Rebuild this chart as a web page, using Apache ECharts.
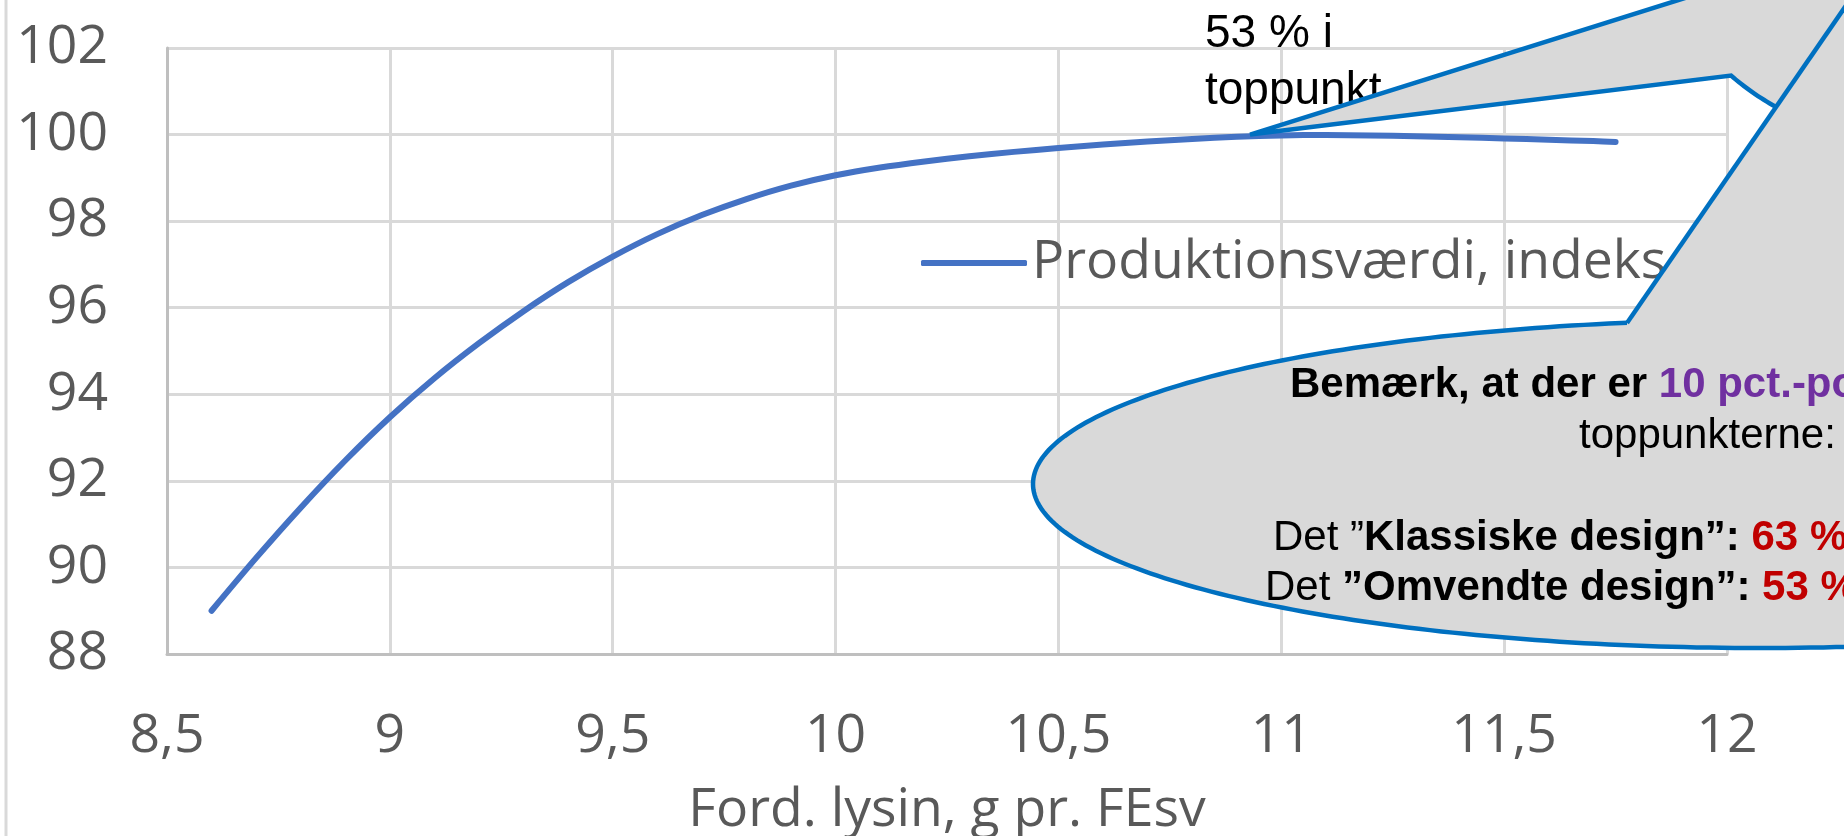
<!DOCTYPE html>
<html>
<head>
<meta charset="utf-8">
<script src="https://cdn.jsdelivr.net/npm/echarts@6/dist/echarts.min.js"></script>
<style>
  html, body { margin: 0; padding: 0; background: #ffffff; }
  #chart { width: 1844px; height: 836px; }
</style>
</head>
<body>
<div id="chart"></div>
<script>
// Ford. lysin (g pr. FEsv) and the production value index
const lysin = [8.6, 8.7, 8.8, 8.9, 9.0, 9.1, 9.2, 9.3, 9.4, 9.5, 9.6, 9.7, 9.8, 9.9, 10.0,
               10.1, 10.2, 10.3, 10.4, 10.5, 10.6, 10.7, 10.8, 10.9, 11.0,
               11.1, 11.2, 11.3, 11.4, 11.5, 11.6, 11.7, 11.75];
const indeks = [89.0, 90.22, 91.38, 92.47, 93.47, 94.37, 95.18, 95.92, 96.59, 97.18, 97.7, 98.14, 98.51, 98.82, 99.06,
                99.24, 99.38, 99.5, 99.6, 99.69, 99.77, 99.84, 99.9, 99.95, 99.98,
                99.99, 99.98, 99.96, 99.94, 99.91, 99.88, 99.85, 99.83];
const seriesName = 'Produktionsværdi, indeks';
const xAxisName = 'Ford. lysin, g pr. FEsv';

// Peak marked by the callout and the note text
const peakPoint = [10.93, 100.0];
const peakLabel = ['53 % i', 'toppunkt'];
const noteLines = [
  '{b|Bemærk, at der er }{p|10 pct.-point}',
  '{n|toppunkterne:}',
  '{n|Det ”}{b|Klassiske design”:}{r| 63 %}',
  '{n|Det }{b|”Omvendte design”:}{r| 53 %}'
];

const axisFont = '"Open Sans", "Noto Sans", sans-serif';
const noteFont = '"Liberation Sans", Arial, sans-serif';
const axisSize = 53.5;
const textGray = '#595959';
const gridGray = '#d9d9d9';
const calloutBlue = '#0070c0';
const calloutFill = '#d9d9d9';
const outlineWidth = 4.5;

const chart = echarts.init(document.getElementById('chart'), null, { renderer: 'canvas' });

const data = lysin.map((x, i) => [x, indeks[i]]);

chart.setOption({
  animation: false,
  backgroundColor: '#ffffff',
  grid: { left: 167, right: 117, top: 48, bottom: 182, show: false, outerBoundsMode: 'none', containLabel: false },
  legend: {
    data: [seriesName],
    left: 921,
    top: 233,
    padding: 0,
    icon: 'roundRect',
    itemWidth: 106,
    itemHeight: 6,
    itemStyle: { color: '#4472c4' },
    textStyle: { fontFamily: axisFont, fontSize: axisSize, color: textGray, lineHeight: 60 }
  },
  xAxis: {
    type: 'value',
    min: 8.5,
    max: 12,
    interval: 0.5,
    name: xAxisName,
    nameLocation: 'middle',
    nameGap: 130,
    nameTextStyle: { fontFamily: axisFont, fontSize: axisSize, color: textGray, lineHeight: 54 },
    axisLine: { show: true, onZero: false, lineStyle: { color: '#bfbfbf', width: 3 } },
    axisTick: { show: false },
    axisLabel: {
      margin: 56,
      fontFamily: axisFont,
      fontSize: axisSize,
      lineHeight: 54,
      color: textGray,
      formatter: v => String(v).replace('.', ',')
    },
    splitLine: { show: true, lineStyle: { color: gridGray, width: 3 } }
  },
  yAxis: {
    type: 'value',
    min: 88,
    max: 102,
    interval: 2,
    axisLine: { show: true, lineStyle: { color: '#bfbfbf', width: 3 } },
    axisTick: { show: false },
    axisLabel: {
      margin: 59,
      fontFamily: axisFont,
      fontSize: axisSize,
      color: textGray
    },
    splitLine: { show: true, lineStyle: { color: gridGray, width: 3 } }
  },
  series: [{
    name: seriesName,
    type: 'line',
    data: data,
    smooth: 0.3,
    symbol: 'none',
    lineStyle: { color: '#4472c4', width: 6, cap: 'round', join: 'round' },
    itemStyle: { color: '#4472c4' }
  }]
});

// Callout shapes and annotation text
const tip = chart.convertToPixel({ gridIndex: 0 }, peakPoint);
const tx = tip[0], ty = tip[1];

// Quadratic curve sampled into points
function quad(p0, c, p1, n) {
  const pts = [];
  for (let i = 0; i <= n; i++) {
    const t = i / n, u = 1 - t;
    pts.push([u * u * p0[0] + 2 * u * t * c[0] + t * t * p1[0],
              u * u * p0[1] + 2 * u * t * c[1] + t * t * p1[1]]);
  }
  return pts;
}

// Upper bubble: a wedge from the peak running out past the top-right corner
const upperEdgeSlope = -0.314;
const lowerEnd = [tx + 481, ty - 59];
const upperPoints = [[tx, ty], [tx + 650, ty + 650 * upperEdgeSlope], [2150, -120], [2150, 260], [1900, 200]]
  .concat(quad([1776, 107], [1751, 93], lowerEnd, 16));

// Lower bubble: ellipse with a tail heading up and out of the canvas
const ell = { cx: 1760, cy: 484, rx: 727, ry: 164 };
const ellPoints = [];
for (let i = 0; i < 360; i++) {
  const a = i / 360 * Math.PI * 2;
  ellPoints.push([ell.cx + ell.rx * Math.cos(a), ell.cy + ell.ry * Math.sin(a)]);
}
const tailBase = [1627, 323];
const tailTop = [1905, -80];

const elements = [
  { type: 'line', z: 10, shape: { x1: 6, y1: 0, x2: 6, y2: 836 },
    style: { stroke: gridGray, lineWidth: 3 } },
  { type: 'text', z: 11, x: 1205, y: 34,
    style: { text: peakLabel[0], fontFamily: noteFont, fontSize: 46, fill: '#000000', verticalAlign: 'middle' } },
  { type: 'text', z: 11, x: 1205, y: 91,
    style: { text: peakLabel[1], fontFamily: noteFont, fontSize: 46, fill: '#000000', verticalAlign: 'middle' } },
  { type: 'polygon', z: 12, shape: { points: upperPoints },
    style: { fill: calloutFill, stroke: calloutBlue, lineWidth: outlineWidth, lineJoin: 'miter' } },
  { type: 'polygon', z: 13, shape: { points: ellPoints },
    style: { fill: calloutFill, stroke: calloutBlue, lineWidth: outlineWidth } },
  { type: 'polygon', z: 14,
    shape: { points: [tailBase, tailTop, [2150, -80], [2150, 338], [tailBase[0], 338]] },
    style: { fill: calloutFill } },
  { type: 'line', z: 15,
    shape: { x1: tailBase[0], y1: tailBase[1], x2: tailTop[0], y2: tailTop[1] },
    style: { stroke: calloutBlue, lineWidth: outlineWidth, lineCap: 'butt' } }
];

const rich = {
  b: { fontFamily: noteFont, fontSize: 42, fontWeight: 'bold', fill: '#000000' },
  n: { fontFamily: noteFont, fontSize: 42, fill: '#000000' },
  p: { fontFamily: noteFont, fontSize: 42, fontWeight: 'bold', fill: '#7030a0' },
  r: { fontFamily: noteFont, fontSize: 42, fontWeight: 'bold', fill: '#c00000' }
};
const notePos = [[1290, 385], [1579, 436], [1273, 538], [1265, 588]];
noteLines.forEach((line, i) => {
  elements.push({
    type: 'text', z: 16, x: notePos[i][0], y: notePos[i][1],
    style: { text: line, rich: rich, fontFamily: noteFont, fontSize: 42, fill: '#000000', verticalAlign: 'middle', align: 'left' }
  });
});

chart.setOption({ graphic: { elements: elements } });
</script>
</body>
</html>
